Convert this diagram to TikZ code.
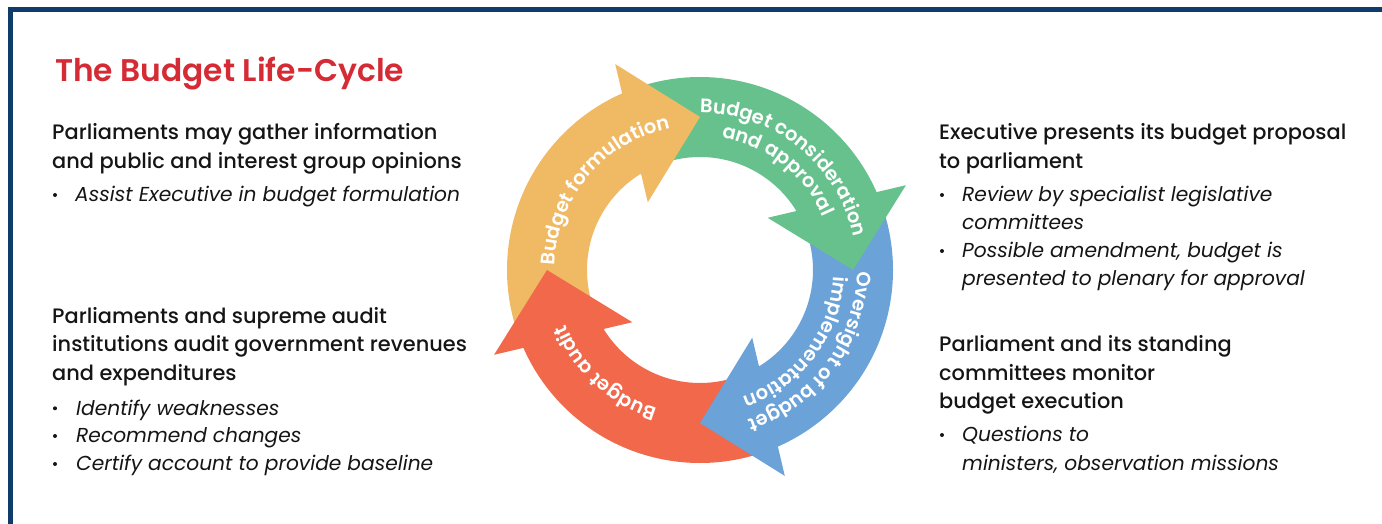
\documentclass[tikz,border=0pt]{standalone}
\usepackage{fontspec}
\setmainfont{Poppins}
\newfontfamily\semib{Poppins SemiBold}
\newfontfamily\medium{Poppins Medium}
\usetikzlibrary{decorations.text}
\definecolor{navyB}{HTML}{0F3C6A}
\definecolor{titleR}{HTML}{D42B35}
\definecolor{txt}{HTML}{151515}
\definecolor{arO}{HTML}{F0BA64}
\definecolor{arG}{HTML}{66C18D}
\definecolor{arB}{HTML}{6BA2D8}
\definecolor{arR}{HTML}{F1684B}
\newcommand{\lblfont}{\semib\fontsize{19.5}{19.5}\selectfont\color{white}}
\tikzset{
  head/.style={anchor=base west, inner sep=0pt, text=txt, font=\medium\fontsize{20.9}{20.9}\selectfont},
  item/.style={anchor=base west, inner sep=0pt, text=txt, font=\fontsize{20.2}{20.2}\selectfont\itshape},
  bul/.style={circle, fill=txt, inner sep=0pt, minimum size=4pt},
  lbl/.style={decorate, decoration={text along path, text align=center, text={|\lblfont|#1}}}
}
\begin{document}
\begin{tikzpicture}[x=1pt,y=1pt]
\useasboundingbox (0,0) rectangle (1382,-524);
% frame
\fill[navyB] (8,-7) rectangle (1382,-12);
\fill[navyB] (8,-7) rectangle (13,-524);
% title
\node[anchor=base west, inner sep=0pt, text=titleR, font=\semib\fontsize{31.3}{31.3}\selectfont] (title) at (55,-81.7) {The Budget Life-Cycle};
% left block 1
\node[head] (l1a) at (52,-140) {Parliaments may gather information};
\node[head] (l1b) at (52,-168) {and public and interest group opinions};
\node[bul] (b1) at (55,-195) {};
\node[item] (l1c) at (75,-201.7) {Assist Executive in budget formulation};
% left block 2
\node[head] (l2a) at (52,-323.3) {Parliaments and supreme audit};
\node[head] (l2b) at (52,-351.7) {institutions audit government revenues};
\node[head] (l2c) at (52,-380) {and expenditures};
\node[bul] (b2) at (55,-408.3) {};
\node[item] (l2d) at (76,-415) {Identify weaknesses};
\node[bul] (b3) at (55,-436) {};
\node[item] (l2e) at (76,-442.7) {Recommend changes};
\node[bul] (b4) at (55,-464) {};
\node[item] (l2f) at (76,-470.7) {Certify account to provide baseline};
% right block 1
\node[head] (r1a) at (939,-140) {Executive presents its budget proposal};
\node[head] (r1b) at (939,-168) {to parliament};
\node[bul] (b5) at (942,-195) {};
\node[item] (r1c) at (962,-201.7) {Review by specialist legislative};
\node[item] (r1d) at (962,-229.3) {committees};
\node[bul] (b6) at (942,-251) {};
\node[item] (r1e) at (962,-257.7) {Possible amendment, budget is};
\node[item] (r1f) at (962,-285) {presented to plenary for approval};
% right block 2
\node[head] (r2a) at (939,-351.7) {Parliament and its standing};
\node[head] (r2b) at (939,-380) {committees monitor};
\node[head] (r2c) at (939,-408.3) {budget execution};
\node[bul] (b7) at (942,-435) {};
\node[item] (r2d) at (962,-441.7) {Questions to};
\node[item] (r2e) at (962,-470) {ministers, observation missions};
% cycle
\begin{scope}[shift={(700,-270)}]
\foreach \t/\c in {90/arO, 0/arG, -90/arB, 180/arR} {
  \fill[\c] (\t+110:193) arc[start angle=\t+110, end angle=\t+16, radius=193]
     -- (\t+16:113) arc[start angle=\t+16, end angle=\t+110, radius=113] -- cycle;
}
\foreach \t/\c in {90/arO, 0/arG, -90/arB, 180/arR} {
  \fill[\c] (\t:153) -- (\t+22.38:222.7) -- (\t+37.64:85.5) -- cycle;
}
\path[lbl={Budget formulation}] (190:145) arc[start angle=190, end angle=90, radius=145];
\path[lbl={Budget consideration}] (101:157) arc[start angle=101, end angle=1, radius=157];
\path[lbl={and approval}] (102:134) arc[start angle=102, end angle=2, radius=134];
\path[lbl={Oversight of budget}] (13.5:157) arc[start angle=13.5, end angle=-86.5, radius=157];
\path[lbl={implementation}] (13:134) arc[start angle=13, end angle=-87, radius=134];
\path[lbl={Budget audit}] (-82.5:145) arc[start angle=-82.5, end angle=-182.5, radius=145];
\end{scope}
\end{tikzpicture}
\end{document}
